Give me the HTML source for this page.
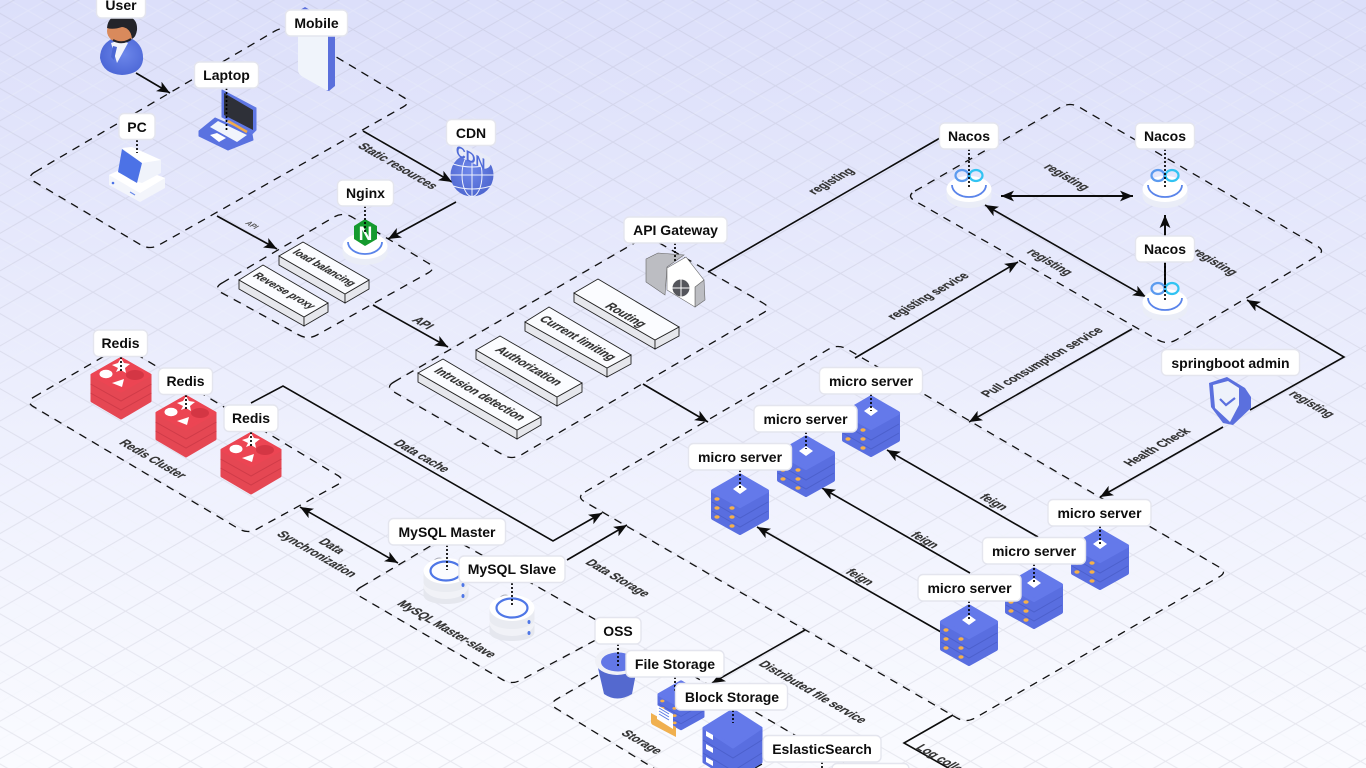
<!DOCTYPE html>
<html lang="en"><head><meta charset="utf-8"><title>Microservice architecture</title>
<style>
html,body{margin:0;padding:0;width:1366px;height:768px;overflow:hidden;background:#eef0fd}
svg{display:block;font-family:"Liberation Sans",sans-serif}
.d{fill:none;stroke:#111;stroke-width:1.3;stroke-dasharray:8 6.5}
.c{fill:none;stroke:#0c0c0c;stroke-width:1.6}
.dot{stroke:#000;stroke-width:1.7;stroke-dasharray:2 2;fill:none}
.lb rect{fill:#fff;stroke:#e4e5ee;stroke-width:1.4}
.lb text{font-size:14px;font-weight:700;fill:#0d0d0d;text-anchor:middle}
.t{font-size:12px;font-weight:700;fill:#333;stroke:#333;stroke-width:.2;text-anchor:middle;dominant-baseline:central}
.s{font-size:10.500px}
.top{fill:#fbfcff;stroke:#222;stroke-width:.9}
.sd{fill:#e6e7ec;stroke:#222;stroke-width:.9}
</style></head><body>
<svg width="1366" height="768" viewBox="0 0 1366 768" xmlns="http://www.w3.org/2000/svg">
<defs>
<linearGradient id="bg" x1="0" y1="0" x2="0" y2="1"><stop offset="0" stop-color="#dcdffa"/><stop offset=".5" stop-color="#eceefd"/><stop offset="1" stop-color="#fafbff"/></linearGradient>
<radialGradient id="body" cx=".55" cy=".45" r=".7"><stop offset="0" stop-color="#6d87ea"/><stop offset="1" stop-color="#4560d2"/></radialGradient>
<radialGradient id="globe" cx=".45" cy=".4" r=".7"><stop offset="0" stop-color="#6f88ea"/><stop offset="1" stop-color="#4a62cc"/></radialGradient>
<pattern id="grid" patternUnits="userSpaceOnUse" x="28" y="29.5" width="65" height="37.53">
<path d="M0 18.76L32.5 37.53M32.5 0L65 18.76M0 18.76L32.5 0M32.5 37.53L65 18.76" stroke="#f1f2fb" stroke-width="1" opacity=".3" fill="none"/>
<path d="M0 0L65 37.53M0 37.53L65 0" stroke="#a9abbd" stroke-opacity=".23" stroke-width="1" fill="none"/>
</pattern>
<marker id="a" viewBox="0 0 12 10" refX="12" refY="5" markerWidth="13" markerHeight="11" markerUnits="userSpaceOnUse" orient="auto-start-reverse"><path d="M0 0L12 5L0 10L3 5Z" fill="#0c0c0c"/></marker>
<g id="srv">
<path d="M-27 19L0 2.500L27 19V45L0 60L-27 45Z" fill="#596ee0" stroke="#596ee0" stroke-width="4" stroke-linejoin="round"/>
<path d="M-27 18L0 2.500L27 18L0 33Z" fill="#6479ea" stroke="#6479ea" stroke-width="4" stroke-linejoin="round"/>
<path d="M-28 29L0 45L28 29M-28 38L0 54L28 38" fill="none" stroke="#4c60cc" stroke-width="1"/>
<path d="M0 11L7 16L0 21L-7 16Z" fill="#fff"/>
<g fill="#f5b04a"><ellipse cx="-23" cy="26" rx="2.600" ry="1.700"/><ellipse cx="-8" cy="35" rx="2.600" ry="1.700"/><ellipse cx="-23" cy="35" rx="2.600" ry="1.700"/><ellipse cx="-8" cy="44" rx="2.600" ry="1.700"/><ellipse cx="-23" cy="44" rx="2.600" ry="1.700"/><ellipse cx="-8" cy="53" rx="2.600" ry="1.700"/></g>
</g>
<g id="red">
<path d="M-29 18L0 1.500L29 18V44L0 61L-29 44Z" fill="#e54753" stroke="#e54753" stroke-width="3" stroke-linejoin="round"/>
<path d="M-29 18L0 1.500L29 18L0 34Z" fill="#ec4553" stroke="#ec4553" stroke-width="3" stroke-linejoin="round"/>
<path d="M-30.500 27L0 44L30.500 27M-30.500 36L0 53L30.500 36" fill="none" stroke="#cf3b48" stroke-width="1"/>
<path d="M0 1L3 6L9 7L4 11L5 16L0 13L-5 15L-3 11L-9 8L-3 6Z" fill="#fff"/>
<ellipse cx="-15" cy="17" rx="6.500" ry="4.200" fill="#fff"/><path d="M-9 26L3 22L1 30Z" fill="#fff"/><ellipse cx="14" cy="18" rx="9" ry="5" fill="#d43644"/>
</g>
<g id="disc">
<path d="M-22.500 0V7C-22.500 14-12 19 0 19S22.500 14 22.500 7V0Z" fill="#eaedf7"/>
<ellipse rx="22.500" ry="13" fill="#fff"/>
<path d="M-17 -4A17 12 0 0 0 17 -4" fill="none" stroke="#5a84ea" stroke-width="1.800"/>
</g>
<g id="inf"><ellipse cx="-7" cy="-14.500" rx="6.500" ry="5.500" fill="none" stroke="#5c9bef" stroke-width="2.200"/><ellipse cx="7" cy="-14.500" rx="6.500" ry="5.500" fill="none" stroke="#32c3f2" stroke-width="2.200"/></g>
<g id="db">
<path d="M-13 -9Q-9 -15 -3 -12Q3 -5 2 -1" fill="none" stroke="#a9abb6" stroke-width=".9"/>
<path d="M-22.500 15V24C-22.500 30-12 33 0 33S22.500 30 22.500 24V15Z" fill="#e5e7ee"/><ellipse cy="15" rx="22.500" ry="13" fill="#f1f2f7"/>
<path d="M-22.500 0V11C-22.500 17-12 21 0 21S22.500 17 22.500 11V0Z" fill="#e9ebf1"/><ellipse rx="22.500" ry="13" fill="#fff"/>
<ellipse rx="15.500" ry="9.500" fill="#fbfcff" stroke="#4e76e6" stroke-width="2.200"/>
<ellipse cx="17" cy="14" rx="1.500" ry="2" fill="#4e76e6"/><ellipse cx="17" cy="25" rx="1.500" ry="2" fill="#4e76e6"/>
</g>
</defs>

<rect width="1366" height="768" fill="url(#bg)"/>
<rect width="1366" height="768" fill="url(#grid)"/>

<!-- containers -->
<path class="d" d="M35 172L275 31Q284 26 293 31L403 97Q412 102 403 107L159 245Q150 250 141 245L35 182Q26 177 35 172Z"/>
<path class="d" d="M222 283L334 217Q343 212 352 217L428 263Q437 268 428 273L317 335Q308 340 299 335L222 293Q213 288 222 283Z"/>
<path class="d" d="M394 382L638 241Q647 236 656 241L763 303Q772 308 763 313L521 455Q512 460 503 455L394 392Q385 387 394 382Z"/>
<path class="d" d="M915 191L1061 107Q1070 102 1079 107L1317 246Q1326 251 1317 256L1176 340Q1167 345 1158 340L915 201Q906 196 915 191Z"/>
<path class="d" d="M585 492L829 349Q838 344 847 349L1219 567Q1228 572 1219 577L975 718Q966 723 957 718L585 502Q576 497 585 492Z"/>
<path class="d" d="M361 587L439 541Q448 536 457 541L605 625Q614 630 605 635L521 680Q512 685 503 680L361 597Q352 592 361 587Z"/>
<path class="d" d="M34 397L113 351Q122 346 131 351L337 475Q346 480 337 485L257 529Q248 534 239 529L34 407Q25 402 34 397Z"/>
<path class="d" d="M660 772L557 709Q548 704 557 699L636 653Q645 648 654 653L860 773"/>
<path class="d" d="M755 768L790 748"/>

<!-- connectors -->
<path class="c" d="M136 73L170 93" marker-end="url(#a)"/>
<path class="c" d="M363 131L452 182" marker-end="url(#a)"/>
<path class="c" d="M456 202L388 239" marker-end="url(#a)"/>
<path class="c" d="M217 216L277 249" marker-end="url(#a)"/>
<path class="c" d="M373 305L448 347" marker-end="url(#a)"/>
<path class="c" d="M643 384L708 422" marker-end="url(#a)"/>
<path class="c" d="M708 272L940 138"/>
<path class="c" style="stroke-width:2" d="M1001 196H1133" marker-start="url(#a)" marker-end="url(#a)"/>
<path class="c" style="stroke-width:2" d="M1165 290V215" marker-end="url(#a)"/>
<path class="c" d="M985 205L1146 297" marker-start="url(#a)" marker-end="url(#a)"/>
<path class="c" d="M855 358L1018 262" marker-end="url(#a)"/>
<path class="c" d="M1132 329L969 422" marker-end="url(#a)"/>
<path class="c" d="M1250 410L1344 357L1247 300" marker-end="url(#a)"/>
<path class="c" d="M1223 427L1100 497" marker-end="url(#a)"/>
<path class="c" d="M1038 537L887 450" marker-end="url(#a)"/>
<path class="c" d="M970 573L822 488" marker-end="url(#a)"/>
<path class="c" d="M941 632L757 527" marker-end="url(#a)"/>
<path class="c" d="M251 403L283 386L553 541L602 513" marker-end="url(#a)"/>
<path class="c" d="M300 507L398 563" marker-start="url(#a)" marker-end="url(#a)"/>
<path class="c" d="M567 560L627 525" marker-end="url(#a)"/>
<path class="c" d="M805 630L712 683" marker-end="url(#a)"/>
<path class="c" d="M953 715L904 743L950 769"/>

<!-- connector labels -->
<text class="t" transform="matrix(.8 .46 -.95 .55 398 166)">Static resources</text>
<text class="t" style="font-size:7.500px;fill:#555;stroke:none" transform="matrix(.8 .46 -.95 .55 252 225)">API</text>
<text class="t" transform="matrix(.8 .46 -.95 .55 423 323)">API</text>
<text class="t" transform="matrix(.8 -.46 .95 .55 831 181)">registing</text>
<text class="t" transform="matrix(.8 .46 -.95 .55 1067 177)">registing</text>
<text class="t" transform="matrix(.8 .46 -.95 .55 1050 262)">registing</text>
<text class="t" transform="matrix(.8 .46 -.95 .55 1215 262)">registing</text>
<text class="t" transform="matrix(.8 -.46 .95 .55 928 296)">registing service</text>
<text class="t" transform="matrix(.8 -.46 .95 .55 1042 362)">Pull consumption service</text>
<text class="t" transform="matrix(.8 .46 -.95 .55 1312 404)">registing</text>
<text class="t" transform="matrix(.8 -.46 .95 .55 1157 447)">Health Check</text>
<text class="t" transform="matrix(.8 .46 -.95 .55 994 502)">feign</text>
<text class="t" transform="matrix(.8 .46 -.95 .55 925 540)">feign</text>
<text class="t" transform="matrix(.8 .46 -.95 .55 860 577)">feign</text>
<text class="t" transform="matrix(.8 .46 -.95 .55 422 456)">Data cache</text>
<text class="t" transform="matrix(.8 .46 -.95 .55 153 459)">Redis Cluster</text>
<text class="t" transform="matrix(.8 .46 -.95 .55 332 546)">Data</text>
<text class="t" transform="matrix(.8 .46 -.95 .55 317 554)">Synchronization</text>
<text class="t" transform="matrix(.8 .46 -.95 .55 447 629)">MySQL Master-slave</text>
<text class="t" transform="matrix(.8 .46 -.95 .55 618 578)">Data Storage</text>
<text class="t" transform="matrix(.8 .46 -.95 .55 642 742)">Storage</text>
<text class="t" transform="matrix(.8 .46 -.95 .55 813 692)">Distributed file service</text>
<text class="t" style="text-anchor:start" transform="matrix(.8 .46 -.95 .55 919 746)">Log collection</text>

<!-- bars -->
<path class="sd" d="M239 280V289L304 326V317Z"/><path class="sd" d="M304 317V326L328 312V303Z"/><path class="top" d="M239 280L263 265L328 303L304 317Z"/>
<path class="sd" d="M279 256V265L345 303V294Z"/><path class="sd" d="M345 294V303L369 289V280Z"/><path class="top" d="M279 256L303 242L369 280L345 294Z"/>
<path class="sd" d="M418 373V382L517 439V430Z"/><path class="sd" d="M517 430V439L541 425V417Z"/><path class="top" d="M418 373L443 359L541 417L517 430Z"/>
<path class="sd" d="M476 350V359L557 406V397Z"/><path class="sd" d="M557 397V406L582 392V383Z"/><path class="top" d="M476 350L500 336L582 383L557 397Z"/>
<path class="sd" d="M525 322V331L607 377V368Z"/><path class="sd" d="M607 368V377L631 364V355Z"/><path class="top" d="M525 322L549 307L631 355L607 368Z"/>
<path class="sd" d="M574 293V302L655 349V340Z"/><path class="sd" d="M655 340V349L679 336V327Z"/><path class="top" d="M574 293L598 279L679 327L655 340Z"/>
<text class="t s" transform="matrix(.8 .46 -.95 .55 324 268)">load balancing</text>
<text class="t s" transform="matrix(.8 .46 -.95 .55 284 291)">Reverse proxy</text>
<text class="t" transform="matrix(.8 .46 -.95 .55 480 394)">Intrusion detection</text>
<text class="t" transform="matrix(.8 .46 -.95 .55 529 366)">Authorization</text>
<text class="t" transform="matrix(.8 .46 -.95 .55 578 338)">Current limiting</text>
<text class="t" transform="matrix(.8 .46 -.95 .55 626 315)">Routing</text>

<!-- user -->
<path d="M100 58Q100 43 116 37L128 37Q144 43 143 60Q141 74 122 75Q103 74 100 58Z" fill="url(#body)"/>
<path d="M111 43L120 40L128 43L117 63Z" fill="#f2f4fb"/><path d="M113 46L117 47L114 60L111 57Z" fill="#4a66d4"/>
<ellipse cx="121" cy="31" rx="14" ry="12" fill="#d98a5c"/>
<path d="M107 28Q108 15 122 15Q138 16 137 30Q136 37 132 39Q131 28 122 27Q113 30 107 28Z" fill="#23242a"/>
<path d="M113 40Q122 45 131 39" stroke="#23242a" stroke-width="2" fill="none"/>

<!-- mobile -->
<path d="M300 10L305 7L335 25V86L329 91L326 90V32Z" fill="#5a6fdc"/>
<path d="M298 12L328 30V90L326 90L303 77Q298 74 298 70Z" fill="#f0f4fb"/>

<!-- laptop -->
<path d="M199 131L215 118L252 134L253 140L228 150L199 136Z" fill="#5a72e0" stroke="#5a72e0" stroke-width="1" stroke-linejoin="round"/>
<path d="M222 90L256 108V130L252 134L222 117Z" fill="#5f77e4" stroke="#5f77e4" stroke-width="1" stroke-linejoin="round"/>
<path d="M224 93L253 110V130L224 115Z" fill="#2e3038"/>
<path d="M228 121L247 132" stroke="#f2ab4b" stroke-width="2.500"/>
<path d="M210 127L218 121L247 135L237 142Z" fill="#f1f4fc"/>
<path d="M210 135L217 133L226 138L219 142Z" fill="#fff"/>

<!-- pc -->
<path d="M109 175L130 165L165 178V188L140 202L109 185Z" fill="#f3f5fb"/>
<path d="M109 175L130 165L165 178L140 193Z" fill="#fff"/>
<path d="M122 148L132 147L161 160V173L142 183L130 180Z" fill="#f0f3fb"/>
<path d="M122 149L142 163L137 183L118 172Z" fill="#4c72e6"/>
<path d="M122 148L132 147L161 160L142 163Z" fill="#fff"/>
<circle cx="113" cy="183" r="1.300" fill="#4c72e6"/><path d="M130 192L135 195" stroke="#6b8ae8" stroke-width="1.200"/>

<!-- CDN -->
<circle cx="472" cy="175" r="21.500" fill="url(#globe)"/>
<ellipse cx="472" cy="175" rx="10" ry="21.500" fill="none" stroke="#eef1fd" stroke-width="1"/>
<path d="M472 153.500V196.500M450.500 175H493.500M453 164Q472 170 491 164M453 186Q472 192 491 186" fill="none" stroke="#eef1fd" stroke-width="1"/>
<rect x="451" y="149" width="42" height="13" rx="6" transform="rotate(27 472 155)" fill="#e8ebf8"/>
<text transform="matrix(.9 .45 0 1 456 155)" style="font-size:15px;font-weight:700;fill:#4f6ad8">CDN</text>

<!-- nginx -->
<use href="#disc" x="365" y="246"/>
<path d="M365 219L377 226V239L365 246L354 239V226Z" fill="#159a2e"/>
<text x="365.500" y="240" style="font-size:19px;font-weight:700;fill:#fff;text-anchor:middle">N</text>

<!-- gateway -->
<path d="M646 259L658 253L684 255L667 267L665 295L646 282Z" fill="#bcbdc2" stroke="#666" stroke-width=".6"/>
<path d="M704 280L705 300L695 307V287Z" fill="#bcbdc2" stroke="#666" stroke-width=".6"/>
<path d="M667 268L686 257L704 280L695 287V307L667 290Z" fill="#fff" stroke="#666" stroke-width=".6"/>
<circle cx="681" cy="288" r="8.500" fill="#55565c"/><path d="M681 279.500V296.500M672.500 288H689.500" stroke="#fff" stroke-width="1"/>

<!-- redis -->
<use href="#red" x="121" y="357"/><use href="#red" x="186" y="395"/><use href="#red" x="251" y="432"/>

<!-- nacos -->
<use href="#disc" x="969" y="189"/><use href="#inf" x="969" y="190"/>
<use href="#disc" x="1165" y="189"/><use href="#inf" x="1165" y="190"/>
<use href="#disc" x="1165" y="302"/><use href="#inf" x="1165" y="303"/>

<!-- shield -->
<path d="M1209 383L1227 377L1245 388L1251 397V408L1233 425L1223 423L1211 407Z" fill="#5b70de"/>
<path d="M1213 385L1228 381L1239 388V405L1230 422L1215 408Z" fill="#eef2fb"/>
<path d="M1220 399L1226 405L1235 398" fill="none" stroke="#5b70de" stroke-width="2.200"/>

<!-- micro servers -->
<use href="#srv" x="871" y="395"/><use href="#srv" x="806" y="435"/><use href="#srv" x="740" y="473"/>
<use href="#srv" x="1100" y="528"/><use href="#srv" x="1034" y="567"/><use href="#srv" x="969" y="604"/>

<!-- mysql -->
<use href="#db" x="446" y="571"/><use href="#db" x="512" y="608"/>

<!-- oss -->
<path d="M598 668L604 694Q617 703 632 694L637 668Z" fill="#5469cf"/>
<ellipse cx="617" cy="661" rx="22" ry="14" fill="#f0f1f7"/>
<ellipse cx="618" cy="662" rx="17" ry="9.500" fill="#6277e6"/>

<!-- file storage -->
<g transform="translate(681 680) scale(.81)"><use href="#srv"/></g>
<path d="M651 713L676 727V737L653 725Q651 724 651 722Z" fill="#f0b04f"/>
<path d="M657 705L673 714V729L657 719Z" fill="#fff"/>
<path d="M659 708L669 714M659 711L669 717M659 714L669 720" stroke="#5b7be6" stroke-width="1"/>

<!-- block storage -->
<path d="M704 729L733 711L761 729V762L733 780L704 762Z" fill="#596ee0" stroke="#596ee0" stroke-width="3" stroke-linejoin="round"/>
<path d="M704 728L733 710L761 728L733 747Z" fill="#6479ea" stroke="#6479ea" stroke-width="3" stroke-linejoin="round"/>
<path d="M703 740L733 758L762 740M703 753L733 771L762 753" fill="none" stroke="#4c60cc" stroke-width="1"/>
<path d="M706 731L713 735V740L706 736ZM706 744L713 748V753L706 749ZM706 757L713 761V766L706 762Z" fill="#fff"/>

<!-- dotted stems -->
<path class="dot" d="M226.500 88V132M137 140V153M365 206V232M675 243V262M969 149V188M1165 149V188M1165 262V301M121 357V373M186 395V411M251 432V448M447 545V570M512 583V607M618 644V668M675 677V693M733 710V723M822 762V768M871 394V411M806 432V449M740 470V488M1100 526V544M1034 564V583M969 601V620"/>

<!-- labels -->
<g class="lb">
<g><rect x="96.500" y="-8" width="49" height="26" rx="5"/><text x="121" y="10">User</text></g>
<g><rect x="285.500" y="10" width="62" height="26" rx="5"/><text x="316.500" y="28">Mobile</text></g>
<g><rect x="194.500" y="62" width="64" height="26" rx="5"/><text x="226.500" y="80">Laptop</text></g>
<g><rect x="119" y="113.500" width="36" height="26" rx="5"/><text x="137" y="132">PC</text></g>
<g><rect x="337.500" y="180" width="56" height="26" rx="5"/><text x="365.500" y="198">Nginx</text></g>
<g><rect x="446.500" y="119.500" width="49" height="26" rx="5"/><text x="471" y="138">CDN</text></g>
<g><rect x="624" y="217" width="103" height="26" rx="5"/><text x="675.500" y="235">API Gateway</text></g>
<g><rect x="939.500" y="123" width="59" height="26" rx="5"/><text x="969" y="141">Nacos</text></g>
<g><rect x="1135.500" y="123" width="59" height="26" rx="5"/><text x="1165" y="141">Nacos</text></g>
<g><rect x="1135.500" y="236" width="59" height="26" rx="5"/><text x="1165" y="254">Nacos</text></g>
<g><rect x="1161.500" y="349.500" width="138" height="26" rx="5"/><text x="1230.500" y="368">springboot admin</text></g>
<g><rect x="93.500" y="330" width="54" height="26.500" rx="5"/><text x="120.500" y="348">Redis</text></g>
<g><rect x="158.500" y="368" width="54" height="26.500" rx="5"/><text x="185.500" y="386">Redis</text></g>
<g><rect x="224" y="405" width="54" height="26.500" rx="5"/><text x="251" y="423">Redis</text></g>
<g><rect x="819.500" y="367.500" width="103" height="26.500" rx="5"/><text x="871" y="386">micro server</text></g>
<g><rect x="754" y="405.500" width="103" height="26.500" rx="5"/><text x="805.500" y="424">micro server</text></g>
<g><rect x="688.500" y="443.500" width="103" height="26.500" rx="5"/><text x="740" y="462">micro server</text></g>
<g><rect x="1048" y="499.500" width="103" height="26.500" rx="5"/><text x="1099.500" y="518">micro server</text></g>
<g><rect x="982.500" y="537.500" width="103" height="26.500" rx="5"/><text x="1034" y="556">micro server</text></g>
<g><rect x="918" y="574.500" width="103" height="26.500" rx="5"/><text x="969.500" y="593">micro server</text></g>
<g><rect x="388.500" y="518.500" width="117" height="26.500" rx="5"/><text x="447" y="537">MySQL Master</text></g>
<g><rect x="459" y="556" width="106" height="26.500" rx="5"/><text x="512" y="574">MySQL Slave</text></g>
<g><rect x="595" y="617.500" width="46" height="26.500" rx="5"/><text x="618" y="636">OSS</text></g>
<g><rect x="626" y="650.500" width="98" height="26.500" rx="5"/><text x="675" y="669">File Storage</text></g>
<g><rect x="675.500" y="683.500" width="112" height="26.500" rx="5"/><text x="732" y="702">Block Storage</text></g>
<g><rect x="832" y="763.500" width="77" height="26" rx="5"/></g>
<g><rect x="763" y="735.500" width="118" height="26.500" rx="5"/><text x="822" y="754">EslasticSearch</text></g>
</g>
</svg>
</body></html>
